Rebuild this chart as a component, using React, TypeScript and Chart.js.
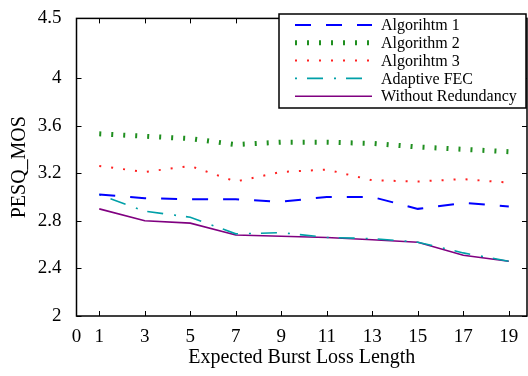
import React, { useEffect, useRef } from "react";
import { Chart, registerables } from "chart.js";

Chart.register(...registerables);

const xValues = [1, 3, 5, 7, 9, 11, 13, 15, 17, 19];
const algorithm1 = [3.02, 2.99, 2.98, 2.98, 2.96, 3.0, 3.0, 2.9, 2.95, 2.92];
const algorithm2 = [3.53, 3.51, 3.49, 3.44, 3.46, 3.46, 3.45, 3.42, 3.4, 3.38];
const algorithm3 = [3.26, 3.21, 3.26, 3.13, 3.21, 3.23, 3.14, 3.13, 3.15, 3.12];
const adaptiveFEC = [3.02, 2.88, 2.83, 2.69, 2.7, 2.66, 2.65, 2.62, 2.53, 2.46];
const withoutRedundancy = [2.9, 2.8, 2.78, 2.68, 2.67, 2.66, 2.64, 2.62, 2.51, 2.46];

const xTickValues = [0, 1, 3, 5, 7, 9, 11, 13, 15, 17, 19];
const yTickValues = [2, 2.4, 2.8, 3.2, 3.6, 4, 4.5];
const seriesLabels = ["Algorihtm 1", "Algorithm 2", "Algorihtm 3", "Adaptive FEC", "Without Redundancy"];

const FONT = "'Liberation Serif', 'Times New Roman', serif";

const toPoints = (ys: number[]) => ys.map((y, i) => ({ x: xValues[i], y }));

const boxPlugin = {
  id: "boxAndTicks",
  afterDatasetsDraw(chart: any) {
    const { ctx, chartArea: a, scales } = chart;
    ctx.save();
    ctx.strokeStyle = "#000";
    ctx.lineWidth = 1.5;
    ctx.strokeRect(a.left, a.top, a.right - a.left, a.bottom - a.top);
    ctx.lineWidth = 1;
    const len = 5;
    ctx.beginPath();
    xTickValues.forEach((v) => {
      if (v === 0) return;
      const px = Math.round(scales.x.getPixelForValue(v)) + 0.5;
      ctx.moveTo(px, a.bottom);
      ctx.lineTo(px, a.bottom - len);
      ctx.moveTo(px, a.top);
      ctx.lineTo(px, a.top + len);
    });
    yTickValues.forEach((v) => {
      const py = Math.round(scales.y.getPixelForValue(v)) + 0.5;
      ctx.moveTo(a.left, py);
      ctx.lineTo(a.left + len, py);
      ctx.moveTo(a.right, py);
      ctx.lineTo(a.right - len, py);
    });
    ctx.stroke();

    // legend
    const lx = 279, ly = 14, lw = 247, lh = 94;
    ctx.fillStyle = "#fff";
    ctx.fillRect(lx, ly, lw, lh);
    ctx.lineWidth = 1.5;
    ctx.strokeStyle = "#000";
    ctx.strokeRect(lx, ly, lw, lh);
    ctx.font = `16px ${FONT}`;
    ctx.textBaseline = "middle";
    chart.data.datasets.forEach((ds: any, i: number) => {
      const y = 25 + i * 17.8;
      ctx.save();
      ctx.strokeStyle = ds.borderColor;
      ctx.lineWidth = ds.borderWidth;
      ctx.setLineDash(ds.borderDash || []);
      ctx.lineCap = "butt";
      ctx.beginPath();
      ctx.moveTo(295, y);
      ctx.lineTo(372, y);
      ctx.stroke();
      ctx.restore();
      ctx.fillStyle = "#000";
      ctx.fillText(ds.label, 381, y + 1);
    });
    ctx.restore();
  },
};

export default function App() {
  const ref = useRef<HTMLCanvasElement>(null);
  useEffect(() => {
    document.body.style.margin = "0";
    const chart = new Chart(ref.current!, {
      type: "line",
      data: {
        datasets: [
          { label: seriesLabels[0], data: toPoints(algorithm1), borderColor: "#0000ff", borderWidth: 2, borderDash: [16, 15] },
          { label: seriesLabels[1], data: toPoints(algorithm2), borderColor: "#1f8f1f", borderWidth: 5, borderDash: [2, 10] },
          { label: seriesLabels[2], data: toPoints(algorithm3), borderColor: "#ff2020", borderWidth: 2, borderDash: [2, 10] },
          { label: seriesLabels[3], data: toPoints(adaptiveFEC), borderColor: "#00a0a8", borderWidth: 1.6, borderDash: [2, 10, 16, 11] },
          { label: seriesLabels[4], data: toPoints(withoutRedundancy), borderColor: "#800080", borderWidth: 1.6 },
        ] as any,
      },
      options: {
        animation: false,
        responsive: false,
        maintainAspectRatio: false,
        layout: { padding: { top: 14, right: 1, left: 0, bottom: 0 } },
        elements: { point: { radius: 0 }, line: { tension: 0 } },
        plugins: { legend: { display: false }, tooltip: { enabled: false } },
        scales: {
          x: {
            type: "linear",
            min: 0,
            max: 19.8,
            grid: { display: false },
            border: { display: false },
            afterBuildTicks: (s: any) => {
              s.ticks = xTickValues.map((v) => ({ value: v }));
            },
            afterFit: (s: any) => {
              s.height = 60;
            },
            ticks: { color: "#000", font: { family: FONT, size: 19 }, padding: 2, maxRotation: 0, autoSkip: false, callback: (v: any) => String(v) },
            title: { display: true, text: "Expected Burst Loss Length", color: "#000", font: { family: FONT, size: 20 }, padding: { top: 0, bottom: 6 } },
          },
          y: {
            type: "linear",
            min: 2,
            max: 4.5,
            grid: { display: false },
            border: { display: false },
            afterBuildTicks: (s: any) => {
              s.ticks = yTickValues.map((v) => ({ value: v }));
            },
            afterFit: (s: any) => {
              s.width = 76.5;
            },
            ticks: { color: "#000", font: { family: FONT, size: 19 }, padding: 7, autoSkip: false, callback: (v: any) => String(v) },
            title: { display: true, text: "PESQ_MOS", color: "#000", font: { family: FONT, size: 20 }, padding: { top: 8, bottom: 4 } },
          },
        },
      } as any,
      plugins: [boxPlugin],
    });
    return () => chart.destroy();
  }, []);
  return (
    <div style={{ width: 528, height: 376 }}>
      <canvas ref={ref} width={528} height={376} style={{ display: "block" }} />
    </div>
  );
}
